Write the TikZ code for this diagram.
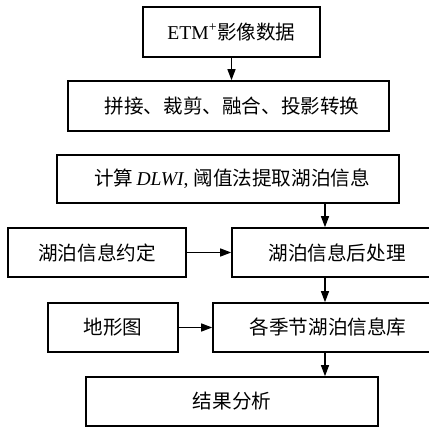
\documentclass[tikz,border=0pt]{standalone}
\usepackage{fontspec}
\setmainfont{Liberation Serif}
\newfontfamily\cjk{Noto Sans CJK SC}[Scale=1.0]
\usetikzlibrary{arrows.meta}
\begin{document}
\begin{tikzpicture}[x=1pt,y=-1pt,
  box/.style={draw,line width=1.6pt,inner sep=0pt,font=\fontsize{19.6}{22}\selectfont},
  arr/.style={line width=1.2pt,-{Triangle[length=11pt,width=8pt]}}]
\useasboundingbox[fill=white] (0,0) rectangle (429,428);
\begin{scope}
\clip (0,0) rectangle (429,428);
\node[box,minimum width=177pt,minimum height=50pt] (b1) at (231.5,32) {ETM\textsuperscript{+}{\cjk 影像数据}};
\node[box,minimum width=321pt,minimum height=50pt] (b2) at (228.5,106) {\hspace{7pt}\cjk 拼接、裁剪、融合、投影转换};
\node[box,minimum width=342pt,minimum height=48pt] (b3) at (228,179) {\hspace{8pt}{\cjk 计算}\,\textit{DLWI}, {\cjk 阈值法提取湖泊信息}};
\node[box,minimum width=178pt,minimum height=49pt] (b4) at (97,252.5) {\cjk 湖泊信息约定};
\node[box,minimum width=210pt,minimum height=49pt] (b5) at (337,252.5) {\cjk 湖泊信息后处理};
\node[box,minimum width=130pt,minimum height=49pt] (b6) at (113,327.5) {\cjk 地形图};
\node[box,minimum width=230pt,minimum height=49pt] (b7) at (328,327.5) {\cjk 各季节湖泊信息库};
\node[box,minimum width=292pt,minimum height=49pt] (b8) at (232,401.5) {\cjk 结果分析};
\end{scope}
\coordinate (cx) at (325,0);
\draw[arr] (b1.south) -- (b2.north -| b1.south);
\draw[arr] (b3.south -| cx) -- (b5.north -| cx);
\draw[arr] (b4.east) -- (b4.east -| b5.west);
\draw[arr] (b5.south -| cx) -- (b7.north -| cx);
\draw[arr] (b6.east) -- (b6.east -| b7.west);
\draw[arr] (b7.south -| cx) -- (b8.north -| cx);
\end{tikzpicture}
\end{document}
